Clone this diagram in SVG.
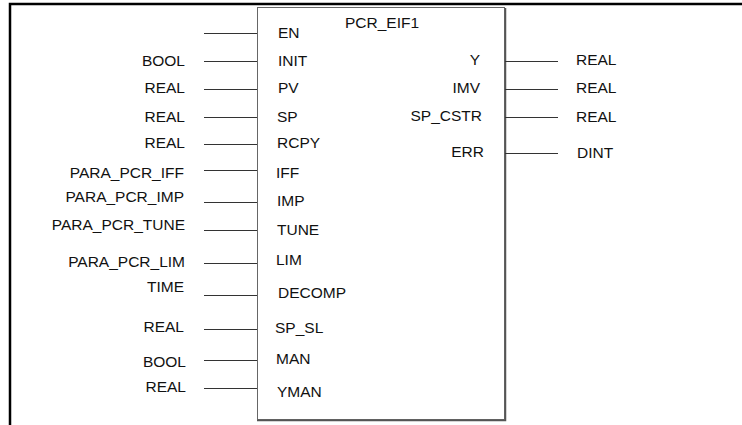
<svg xmlns="http://www.w3.org/2000/svg" width="742" height="425" viewBox="0 0 742 425">
<style>
text{font-family:"Liberation Sans",Arial,sans-serif;font-size:15.5px;fill:#111}
.e{text-anchor:end}
.w{stroke:#333;stroke-width:1;fill:none}
.frame{stroke:#000;stroke-width:2.5;fill:none}
</style>
<rect width="742" height="425" fill="#fff"/>
<path class="frame" d="M10,425 V4 H742"/>
<g id="block">
<rect x="257.5" y="7.5" width="247" height="412" fill="#fff" stroke="#666" stroke-width="1"/>
<path d="M505.5,8 V420.5 H257" stroke="#555" stroke-width="1.5" fill="none"/>
<text x="345" y="28">PCR_EIF1</text>
</g>
<g id="connectors">
<path class="w" d="M204,33.5H257M204,61.5H257M204,89.5H257M204,117.5H257M204,144.5H257M204,170.5H257M204,202.5H257M204,230.5H257M204,263.5H257M204,295.5H257M204,329.5H257M204,360.5H257M204,388.5H257"/>
<path class="w" d="M505,61.5H558M505,89.5H558M505,117.5H558M505,153.5H558"/>
</g>
<g id="inputs">
<text x="278" y="38">EN</text>
<text class="e" x="185" y="66">BOOL</text><text x="278" y="66">INIT</text>
<text class="e" x="185" y="93">REAL</text><text x="278" y="93">PV</text>
<text class="e" x="185" y="122">REAL</text><text x="277" y="122">SP</text>
<text class="e" x="185" y="148">REAL</text><text x="277" y="148">RCPY</text>
<text class="e" x="184" y="178">PARA_PCR_IFF</text><text x="276" y="178">IFF</text>
<text class="e" x="184" y="202">PARA_PCR_IMP</text><text x="277" y="206">IMP</text>
<text class="e" x="185" y="230">PARA_PCR_TUNE</text><text x="277" y="235">TUNE</text>
<text class="e" x="185" y="267">PARA_PCR_LIM</text><text x="276" y="265">LIM</text>
<text class="e" x="184" y="292">TIME</text><text x="278" y="298">DECOMP</text>
<text class="e" x="184" y="332">REAL</text><text x="275" y="333">SP_SL</text>
<text class="e" x="186" y="367">BOOL</text><text x="276" y="364">MAN</text>
<text class="e" x="186" y="392">REAL</text><text x="277" y="397">YMAN</text>
</g>
<g id="outputs">
<text class="e" x="480" y="65">Y</text><text x="576" y="65">REAL</text>
<text class="e" x="480" y="93">IMV</text><text x="576" y="93">REAL</text>
<text class="e" x="482" y="121">SP_CSTR</text><text x="576" y="122">REAL</text>
<text class="e" x="484" y="157">ERR</text><text x="577" y="158">DINT</text>
</g>
</svg>
